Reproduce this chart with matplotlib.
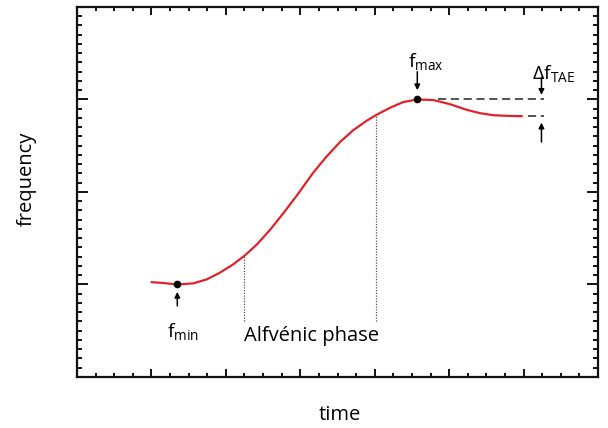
import matplotlib
matplotlib.use("Agg")
import matplotlib.pyplot as plt
from matplotlib.ticker import MultipleLocator

plt.rcParams["font.family"] = ["Open Sans", "DejaVu Sans"]
plt.rcParams["mathtext.fontset"] = "custom"
plt.rcParams["mathtext.rm"] = "Open Sans"
plt.rcParams["mathtext.it"] = "Open Sans:italic"
plt.rcParams["mathtext.sf"] = "Open Sans"

RED = "#e0222b"

# curve (time and frequency in major-tick units)
time = [1.004, 1.159, 1.348, 1.563, 1.743, 1.921, 2.100, 2.257, 2.414, 2.593,
        2.772, 2.952, 3.175, 3.355, 3.534, 3.712, 3.892, 4.026, 4.205, 4.384,
        4.572, 4.787, 5.011, 5.236, 5.414, 5.593, 5.773, 5.974]
freq = [1.025, 1.016, 1.000, 1.012, 1.055, 1.128, 1.218, 1.315, 1.430, 1.590,
        1.770, 1.960, 2.210, 2.385, 2.540, 2.668, 2.770, 2.835, 2.910, 2.972,
        3.000, 2.994, 2.949, 2.888, 2.852, 2.830, 2.823, 2.819]

f_min = (1.348, 1.00)
f_max = (4.572, 3.00)
f_end = 2.819
phase_start = (2.25, 1.31)
phase_end = (4.02, 2.83)

fig = plt.figure(figsize=(6.08, 4.28), dpi=100)
ax = fig.add_axes([0.1266, 0.1192, 0.857, 0.8645])

ax.plot(time, freq, color=RED, lw=1.6, zorder=3, solid_joinstyle="round")
ax.plot(*f_min, "o", color="black", ms=4.5, zorder=4)
ax.plot(*f_max, "o", color="black", ms=4.5, zorder=4)

# dotted markers of the Alfvenic phase
for x, y in (phase_start, phase_end):
    ax.plot([x, x], [0.6, y], color="#555555", lw=0.9, ls=(0, (1, 1.2)), zorder=2)

# dashed reference lines for delta f
ax.plot([4.85, 6.27], [f_max[1], f_max[1]], color="#444444", lw=1.3, ls=(0, (4.5, 2.6)))
ax.plot([6.06, 6.27], [f_end, f_end], color="#444444", lw=1.3, ls=(0, (4.5, 2.6)))

arrow = dict(arrowstyle="-|>", color="black", lw=1.1, mutation_scale=8,
             shrinkA=0, shrinkB=0)
ax.annotate("", xy=(f_min[0], 0.92), xytext=(f_min[0], 0.77), arrowprops=arrow)
ax.annotate("", xy=(f_max[0], 3.10), xytext=(f_max[0], 3.30), arrowprops=arrow)
ax.annotate("", xy=(6.24, 3.05), xytext=(6.24, 3.24), arrowprops=arrow)
ax.annotate("", xy=(6.24, 2.75), xytext=(6.24, 2.54), arrowprops=arrow)

ax.text(1.21, 0.61, r"$\mathrm{f}_{\mathrm{min}}$", fontsize=14, ha="left", va="top")
ax.text(4.45, 3.52, r"$\mathrm{f}_{\mathrm{max}}$", fontsize=14, ha="left", va="top")
ax.text(6.11, 3.39, r"Δ$\mathrm{f}_{\mathrm{TAE}}$", fontsize=14, ha="left", va="top")
ax.text(2.24, 0.39, "Alfvénic phase", fontsize=14.5, ha="left", va="baseline")

ax.set_xlim(0, 7)
ax.set_ylim(0, 4)
ax.xaxis.set_major_locator(MultipleLocator(1))
ax.xaxis.set_minor_locator(MultipleLocator(0.25))
ax.yaxis.set_major_locator(MultipleLocator(1))
ax.yaxis.set_minor_locator(MultipleLocator(0.1))
ax.tick_params(which="both", direction="in", top=True, right=True,
               labelbottom=False, labelleft=False, width=1.4, color="#111111")
ax.tick_params(axis="x", which="major", length=6)
ax.tick_params(axis="x", which="minor", length=3.2)
ax.tick_params(axis="y", which="major", length=8)
ax.tick_params(axis="y", which="minor", length=3.8)
for spine in ax.spines.values():
    spine.set_linewidth(1.6)
    spine.set_color("#111111")

ax.set_xlabel("time", fontsize=14.5)
ax.set_ylabel("frequency", fontsize=14.5)
ax.xaxis.set_label_coords(0.505, -0.075)
ax.yaxis.set_label_coords(-0.077, 0.535)

fig.savefig("out.png", dpi=100, facecolor="white")
